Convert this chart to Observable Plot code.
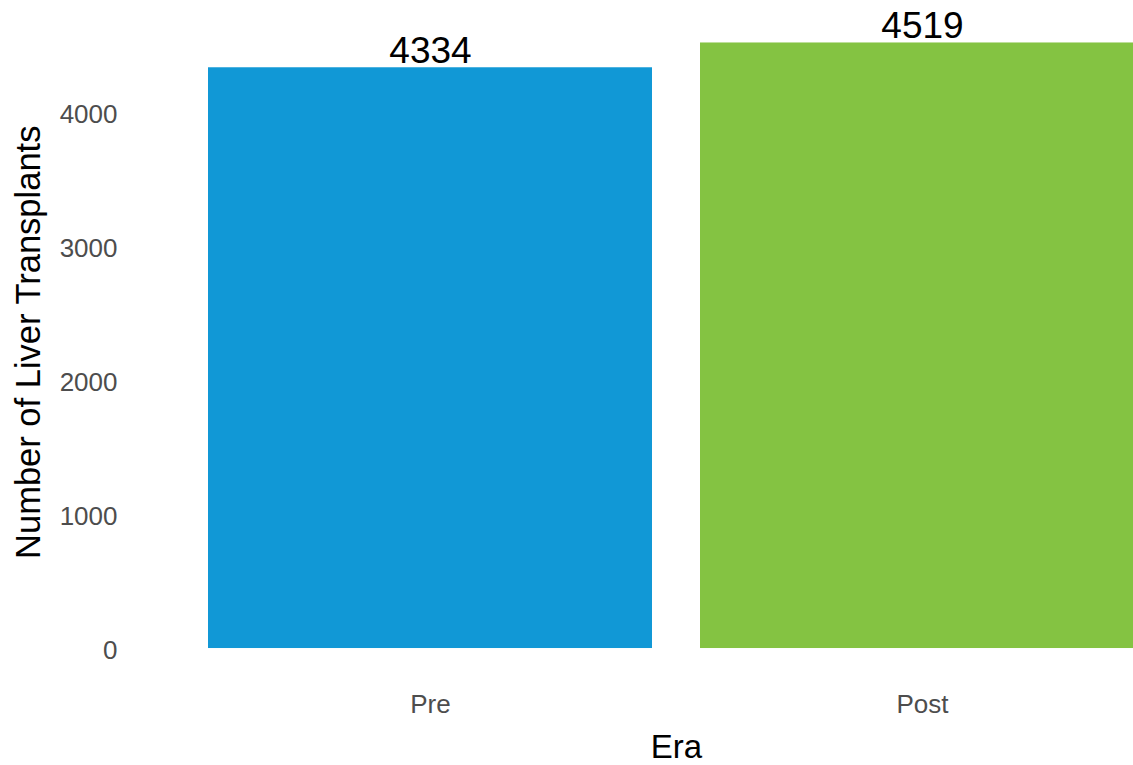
<!DOCTYPE html>
<html>
<head>
<meta charset="utf-8">
<script src="https://cdn.jsdelivr.net/npm/d3@7"></script>
<script src="https://cdn.jsdelivr.net/npm/@observablehq/plot@0.6"></script>
<style>
  html, body { margin: 0; padding: 0; background: #fff; overflow: hidden; }
  svg { display: block; }
</style>
</head>
<body>
<div id="chart"></div>
<script>
const eras = ["Pre", "Post"];
const counts = [4334, 4519];
const barColors = ["#1198D6", "#84C342"];
const yTicks = [0, 1000, 2000, 3000, 4000];
const xTitle = "Era";
const yTitle = "Number of Liver Transplants";

const data = eras.map((e, i) => ({era: e, n: counts[i]}));
const maxN = d3.max(counts);

const W = 1133, H = 765;
const mTop = 12.2, mBottom = H - 678.3, mLeft = 134;
// ggplot-like discrete expansion: panel spans 0.4..2.6 band units
const xRange = [133, 1218];

const chart = Plot.plot({
  width: W,
  height: H,
  marginTop: mTop,
  marginBottom: mBottom,
  marginLeft: mLeft,
  marginRight: 0,
  style: {fontFamily: "'Liberation Sans', Arial, sans-serif", background: "#fff", overflow: "visible"},
  x: {domain: eras, range: xRange, paddingInner: 0.098, paddingOuter: 0.15, axis: null},
  y: {domain: [-0.05 * maxN, 1.05 * maxN], axis: null},
  color: {domain: eras, range: barColors},
  marks: [
    Plot.barY(data, {x: "era", y1: 0, y2: "n", fill: "era", clip: true}),
    Plot.text(data, {x: "era", y: "n", text: d => String(d.n), lineAnchor: "top", dy: -31, fontSize: 37, fill: "#000"}),
    Plot.axisY(yTicks, {tickSize: 0, tickPadding: 17, fontSize: 26, fill: "#4d4d4d", label: null, dy: 1.8, tickFormat: d => String(d)}),
    Plot.axisX({tickSize: 0, tickPadding: 16, fontSize: 26, fill: "#4d4d4d", label: null}),
    Plot.text([xTitle], {frameAnchor: "bottom", lineAnchor: "top", dy: 56, dx: 42.5, fontSize: 33, fill: "#000"}),
    Plot.text([yTitle], {frameAnchor: "left", textAnchor: "middle", rotate: -90, dx: -105.5, dy: -3.5, fontSize: 34.5, fill: "#000"})
  ]
});
document.getElementById("chart").appendChild(chart);
</script>
</body>
</html>
